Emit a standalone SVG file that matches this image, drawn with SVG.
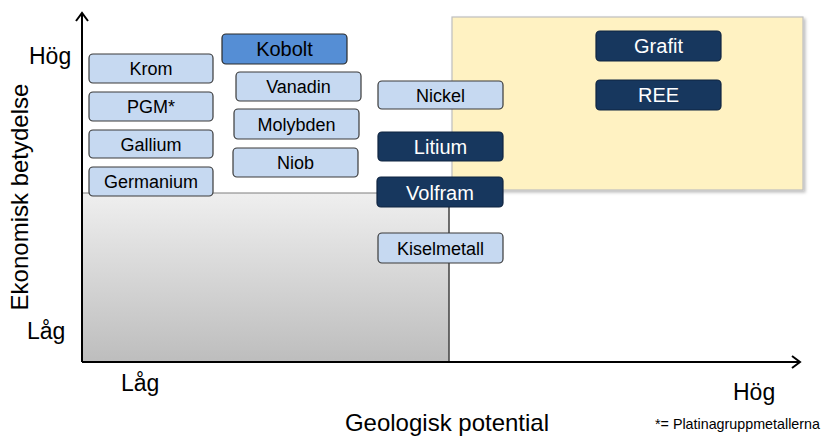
<svg xmlns="http://www.w3.org/2000/svg" width="824" height="441" viewBox="0 0 824 441">
<defs>
<linearGradient id="gray" x1="0" y1="0" x2="0" y2="1">
<stop offset="0" stop-color="#efefef"/>
<stop offset="1" stop-color="#bdbdbd"/>
</linearGradient>
<filter id="sh" x="-5%" y="-5%" width="110%" height="115%">
<feDropShadow dx="2" dy="2" stdDeviation="1.5" flood-color="#000" flood-opacity="0.25"/>
</filter>
<marker id="arr" markerWidth="14" markerHeight="14" refX="11" refY="7" orient="auto" markerUnits="userSpaceOnUse">
<path d="M3,1 L11,7 L3,13" fill="none" stroke="#000" stroke-width="2"/>
</marker>
</defs>
<style>
text{font-family:"Liberation Sans",Arial,sans-serif;}
.lb rect{fill:#c6d9f1;stroke:#3a3a3a;stroke-width:1.2;}
.lb text{font-size:18px;fill:#000;text-anchor:middle;}
.dk rect{fill:#17375e;stroke:#0f2440;stroke-width:1.2;}
.dk text{font-size:20px;fill:#fff;text-anchor:middle;}
.md rect{fill:#558ed5;stroke:#2a2a2a;stroke-width:1.2;}
.md text{font-size:20px;fill:#000;text-anchor:middle;}
.ax{font-size:23px;fill:#000;}
</style>
<rect width="824" height="441" fill="#fff"/>
<!-- regions -->
<g id="high-region">
<rect x="452" y="17" width="351" height="173" fill="#fff2c2" stroke="#bfbfbf" stroke-width="1.2" filter="url(#sh)"/>
</g>
<g id="low-region">
<rect x="82" y="193" width="367" height="169" fill="url(#gray)"/>
<line x1="82" y1="193" x2="449" y2="193" stroke="#7f7f7f" stroke-width="1.2"/>
<line x1="449" y1="193" x2="449" y2="362" stroke="#404040" stroke-width="1.5"/>
</g>
<!-- axes -->
<g id="connectors">
<line x1="82" y1="362" x2="82" y2="13" stroke="#000" stroke-width="2" marker-end="url(#arr)"/>
<line x1="82" y1="362" x2="800" y2="362" stroke="#000" stroke-width="2" marker-end="url(#arr)"/>
</g>
<!-- nodes -->
<g id="krom" class="lb"><rect x="89" y="54" width="124" height="29" rx="4"/><text x="151" y="75">Krom</text></g>
<g id="pgm" class="lb"><rect x="89" y="92" width="124" height="29" rx="4"/><text x="151" y="113">PGM*</text></g>
<g id="gallium" class="lb"><rect x="89" y="130" width="124" height="28" rx="4"/><text x="151" y="150.5">Gallium</text></g>
<g id="germanium" class="lb"><rect x="89" y="167" width="124" height="29" rx="4"/><text x="151" y="188">Germanium</text></g>
<g id="kobolt" class="md"><rect x="222" y="34" width="125" height="30" rx="4"/><text x="284.5" y="56">Kobolt</text></g>
<g id="vanadin" class="lb"><rect x="236" y="72" width="125" height="29" rx="4"/><text x="298.5" y="93">Vanadin</text></g>
<g id="molybden" class="lb"><rect x="234" y="109" width="125" height="30" rx="4"/><text x="296.5" y="130.5">Molybden</text></g>
<g id="niob" class="lb"><rect x="233" y="148" width="125" height="29" rx="4"/><text x="295.5" y="169">Niob</text></g>
<g id="nickel" class="lb"><rect x="378" y="81" width="125" height="28" rx="4"/><text x="440.5" y="101.5">Nickel</text></g>
<g id="litium" class="dk"><rect x="378" y="132" width="125" height="29" rx="4"/><text x="440.5" y="154">Litium</text></g>
<g id="volfram" class="dk"><rect x="377" y="177" width="126" height="30" rx="4"/><text x="440" y="199.5">Volfram</text></g>
<g id="kiselmetall" class="lb"><rect x="378" y="233" width="125" height="30" rx="4"/><text x="440.5" y="254.5">Kiselmetall</text></g>
<g id="grafit" class="dk"><rect x="596" y="31" width="125" height="30" rx="4"/><text x="658.5" y="53">Grafit</text></g>
<g id="ree" class="dk"><rect x="596" y="80" width="125" height="30" rx="4"/><text x="658.5" y="102">REE</text></g>
<!-- axis labels -->
<text class="ax" x="29" y="64">Hög</text>
<text class="ax" x="27" y="339">Låg</text>
<text class="ax" x="121" y="391">Låg</text>
<text class="ax" x="733" y="400">Hög</text>
<text x="447" y="431" font-size="24" text-anchor="middle">Geologisk potential</text>
<text transform="translate(28,197) rotate(-90)" font-size="24" text-anchor="middle">Ekonomisk betydelse</text>
<text x="655" y="429" font-size="14.3">*= Platinagruppmetallerna</text>
</svg>
